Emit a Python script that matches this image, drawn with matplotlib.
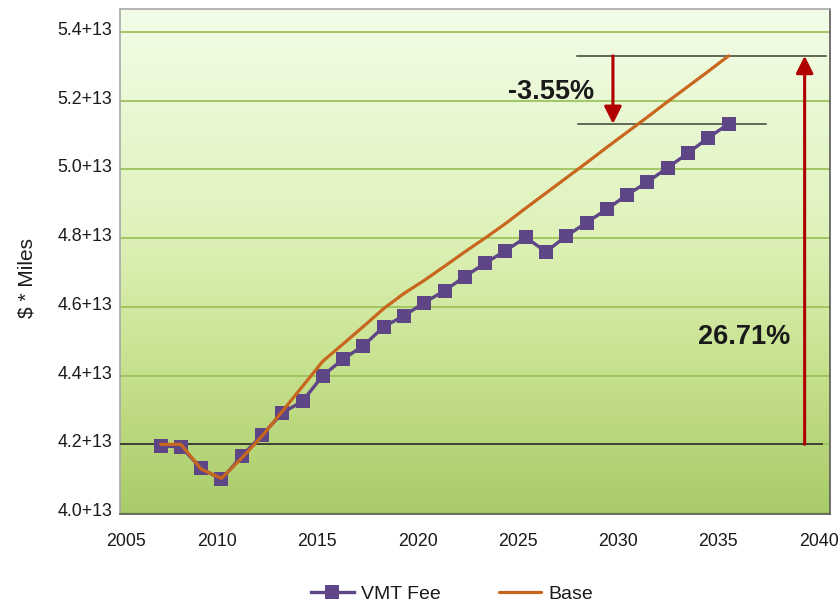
import matplotlib
matplotlib.use("Agg")
import matplotlib.pyplot as plt
from matplotlib.colors import LinearSegmentedColormap
from matplotlib.transforms import ScaledTranslation
import numpy as np

plt.rcParams['font.family'] = ['Liberation Sans', 'DejaVu Sans']

# ---- data (values in units of 1e13 $*miles) ----
years = list(range(2007, 2036))
vmt_fee = [4.195, 4.193, 4.130, 4.098, 4.166, 4.227, 4.291, 4.326, 4.400, 4.448,
           4.487, 4.542, 4.574, 4.612, 4.647, 4.688, 4.727, 4.763, 4.802, 4.760,
           4.806, 4.845, 4.884, 4.926, 4.963, 5.005, 5.047, 5.092, 5.132]
base = [4.200, 4.200, 4.128, 4.101, 4.160, 4.224, 4.296, 4.369, 4.442, 4.492,
        4.543, 4.595, 4.639, 4.677, 4.718, 4.760, 4.800, 4.842, 4.887, 4.931,
        4.975, 5.019, 5.064, 5.108, 5.152, 5.197, 5.241, 5.285, 5.330]
x_ticks = [2005, 2010, 2015, 2020, 2025, 2030, 2035, 2040]
y_ticks = [4.0, 4.2, 4.4, 4.6, 4.8, 5.0, 5.2, 5.4]
y_tick_labels = ["4.0+13", "4.2+13", "4.4+13", "4.6+13", "4.8+13", "5.0+13", "5.2+13", "5.4+13"]
reference_level = 4.2
pct_vmt_label = "-3.55%"
pct_base_label = "26.71%"
# annotation x positions (years)
bracket_top_x = [2027.55, 2039.8]
bracket_vmt_x = [2027.6, 2036.85]
ref_line_x = [2005, 2039.6]
down_arrow_x = 2029.3
up_arrow_x = 2038.75

# ---- style ----
purple = '#5E4585'
orange = '#C8661E'
red = '#B00000'
dark = '#3C4232'
text_col = '#1A1A1A'

fig = plt.figure(figsize=(8.4, 6.02), dpi=100)
ax = fig.add_axes([120/840, 1-514.3/602, 710/840, (514.3-9)/602])
ax.set_xlim(2005, 2040)
ax.set_ylim(3.9965, 5.4663)

# gradient background
cmap = LinearSegmentedColormap.from_list('bg', [(0.0, '#A9CB69'), (0.28, '#C6E18D'),
                                                (0.58, '#E0F3BD'), (1.0, '#F2FDE8')])
grad = np.linspace(0, 1, 256).reshape(-1, 1)
ax.imshow(grad, extent=[0, 1, 0, 1], transform=ax.transAxes, origin='lower',
          cmap=cmap, aspect='auto', zorder=0)

# gridlines and ticks
ax.set_yticks(y_ticks)
ax.set_yticklabels(y_tick_labels)
ax.set_xticks(x_ticks)
ax.yaxis.grid(True, color='#9CC35C', lw=1.3, zorder=1)
ax.set_axisbelow(True)
ax.tick_params(axis='both', length=0, labelsize=12.8, colors=text_col)
ax.tick_params(axis='y', pad=5.5)
ax.tick_params(axis='x', pad=13.5)

# Excel-like label placement offsets (pixels)
px = 1 / 100.0
for i, lab in enumerate(ax.get_xticklabels()):
    dx = 6 if i == 0 else -(3.3 + 1.15 * i)
    lab.set_transform(lab.get_transform() + ScaledTranslation(dx * px, 0, fig.dpi_scale_trans))
for lab in ax.get_yticklabels():
    lab.set_transform(lab.get_transform() + ScaledTranslation(0, 3.5 * px, fig.dpi_scale_trans))

for s in ['left', 'top']:
    ax.spines[s].set_color('#A8A8A8')
for s in ['right', 'bottom']:
    ax.spines[s].set_color('#5A5A5A')
for s in ax.spines.values():
    s.set_linewidth(1.2)

# reference horizontal lines
ax.plot(ref_line_x, [reference_level] * 2, color=dark, lw=1.4, zorder=3)
ax.plot(bracket_top_x, [base[-1]] * 2, color=dark, lw=1.1, zorder=3)
ax.plot(bracket_vmt_x, [vmt_fee[-1]] * 2, color=dark, lw=1.1, zorder=3)

# series
ax.plot(years, vmt_fee, color=purple, lw=2.4, marker='s', markersize=9.5,
        markeredgewidth=0, label='VMT Fee', zorder=4)
ax.plot(years, base, color=orange, lw=2.3, label='Base', zorder=5,
        solid_capstyle='round')

# arrows
ax.annotate('', xy=(down_arrow_x, vmt_fee[-1]), xytext=(down_arrow_x, base[-1]),
            arrowprops=dict(arrowstyle='-|>', color=red, lw=2.2, mutation_scale=26,
                            shrinkA=0, shrinkB=0), zorder=6)
ax.annotate('', xy=(up_arrow_x, base[-1]), xytext=(up_arrow_x, reference_level),
            arrowprops=dict(arrowstyle='-|>', color=red, lw=2.2, mutation_scale=26,
                            shrinkA=0, shrinkB=0), zorder=6)

ax.text(551.5/840, 1-91.7/602, pct_vmt_label, transform=fig.transFigure,
        fontsize=19.5, fontweight='bold', color=text_col, ha='center', va='center', zorder=7)
ax.text(744/840, 1-337/602, pct_base_label, transform=fig.transFigure,
        fontsize=19.5, fontweight='bold', color=text_col, ha='center', va='center', zorder=7)

fig.text(27/840, 1-278/602, '$ * Miles', rotation=90, fontsize=15, color=text_col,
         ha='center', va='center')

fig.legend(loc='center', bbox_to_anchor=(452/840, 1-594/602), ncol=2, frameon=False,
           fontsize=14, handlelength=2.2, columnspacing=3.0, handletextpad=0.35,
           labelcolor=text_col)

fig.savefig('out.png', dpi=100)
